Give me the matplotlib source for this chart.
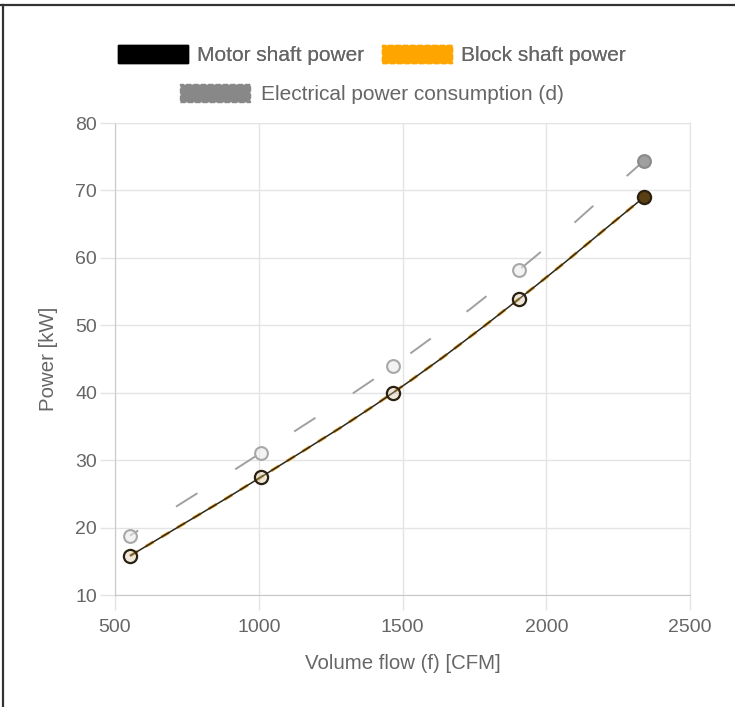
import matplotlib
matplotlib.use("Agg")
import matplotlib.pyplot as plt
import numpy as np
from matplotlib.path import Path
from matplotlib.patches import PathPatch, Patch
from matplotlib.lines import Line2D

plt.rcParams['font.family'] = ['Liberation Sans', 'DejaVu Sans']

# ---- data ----
flow_cfm = [552, 1008, 1467, 1905, 2340]
motor_shaft_kw = [15.8, 27.5, 40.0, 53.9, 69.0]
block_shaft_kw = [15.8, 27.5, 40.0, 53.9, 69.0]
electrical_kw = [18.8, 31.1, 44.0, 58.2, 74.4]
x_ticks = [500, 1000, 1500, 2000, 2500]
y_ticks = [10, 20, 30, 40, 50, 60, 70, 80]
series_labels = ["Motor shaft power", "Block shaft power", "Electrical power consumption (d)"]

W, H = 735, 707
fig = plt.figure(figsize=(W / 100, H / 100), dpi=100)
ax = fig.add_axes([115 / W, 1 - 595 / H, (690 - 115) / W, (595 - 123) / H])
ax.set_xlim(500, 2500)
ax.set_ylim(10, 80)

grid_c = "#e4e4e4"
axis_c = "#c8c8c8"
text_c = "#666666"
fs = 14
fs_lab = 14.7
fs_leg = 15

ax.set_xticks(x_ticks)
ax.set_yticks(y_ticks)
ax.grid(True, color=grid_c, lw=1)
ax.set_axisbelow(True)
ax.tick_params(length=11, width=1, color=grid_c, labelcolor=text_c, labelsize=fs, pad=2)
ax.tick_params(axis='x', pad=6)
for s in ['top', 'right']:
    ax.spines[s].set_color(grid_c)
for s in ['left', 'bottom']:
    ax.spines[s].set_color(axis_c)
ax.set_xlabel("Volume flow (f) [CFM]", color=text_c, fontsize=fs_lab, labelpad=13)
ax.set_ylabel("Power [kW]", color=text_c, fontsize=fs_lab, labelpad=12)


def smooth_path(xs, ys, t=0.4):
    """Chart.js-style bezier through the given points (computed in pixel space)."""
    pts = ax.transData.transform(np.column_stack([xs, ys]))
    n = len(pts)
    verts = [pts[0]]
    codes = [Path.MOVETO]
    cps = []
    for i in range(n):
        prev = pts[i - 1] if i > 0 else pts[i]
        nxt = pts[i + 1] if i < n - 1 else pts[i]
        d01 = np.hypot(*(pts[i] - prev))
        d12 = np.hypot(*(nxt - pts[i]))
        tot = d01 + d12
        s01 = d01 / tot if tot else 0
        s12 = d12 / tot if tot else 0
        cps.append((pts[i] - t * s01 * (nxt - prev), pts[i] + t * s12 * (nxt - prev)))
    for i in range(n - 1):
        verts += [cps[i][1], cps[i + 1][0], pts[i + 1]]
        codes += [Path.CURVE4] * 3
    verts = ax.transData.inverted().transform(np.array(verts))
    return Path(verts, codes)


# electrical (dashed grey)
ax.add_patch(PathPatch(smooth_path(flow_cfm, electrical_kw), fill=False, edgecolor="#a0a0a0",
                       lw=1.4, linestyle=(8, (13, 23)), zorder=3))
# block shaft (orange dashed) under motor shaft (black)
ax.add_patch(PathPatch(smooth_path(flow_cfm, block_shaft_kw), fill=False, edgecolor="#e0a030",
                       lw=2.2, linestyle=(0, (3, 3)), zorder=4))
ax.add_patch(PathPatch(smooth_path(flow_cfm, motor_shaft_kw), fill=False, edgecolor="#2e2818",
                       lw=1.1, zorder=5))

# markers
ax.scatter(flow_cfm[:-1], electrical_kw[:-1], s=85, facecolor=(0.92, 0.92, 0.92, 0.6),
           edgecolor="#a8a8a8", lw=1.5, zorder=6)
ax.scatter(flow_cfm[-1:], electrical_kw[-1:], s=85, facecolor="#a0a0a0",
           edgecolor="#8a8a8a", lw=1.5, zorder=6)
ax.scatter(flow_cfm[:-1], motor_shaft_kw[:-1], s=90, facecolor=(0.8, 0.75, 0.6, 0.35),
           edgecolor="#2a2010", lw=1.6, zorder=7)
ax.scatter(flow_cfm[-1:], motor_shaft_kw[-1:], s=90, facecolor="#5a3f12",
           edgecolor="#2a2010", lw=1.6, zorder=7)

# legend (two centred rows, Chart.js style)
px = fs_leg * 100 / 72
hl = 70 / px
hh = 21 / px
leg1 = fig.legend(handles=[Patch(facecolor="black", edgecolor="black", label=series_labels[0]),
                           Patch(facecolor="#ffa500", edgecolor="#ffa500", linestyle="--",
                                 label=series_labels[1])],
                  loc="center", bbox_to_anchor=(372 / W, 1 - 55 / H), ncol=2, frameon=False,
                  fontsize=fs_leg, labelcolor=text_c, handlelength=hl, handleheight=hh,
                  handletextpad=0.45, columnspacing=0.85)
fig.legend(handles=[Patch(facecolor="#888888", edgecolor="#888888", linestyle="--",
                          label=series_labels[2])],
           loc="center", bbox_to_anchor=(372 / W, 1 - 94 / H), ncol=1, frameon=False,
           fontsize=fs_leg, labelcolor=text_c, handlelength=hl, handleheight=hh, handletextpad=0.5)
fig.add_artist(leg1)

# screenshot border (top and left)
fig.add_artist(Line2D([0, 1], [1 - 5 / H, 1 - 5 / H], transform=fig.transFigure, color="#333333", lw=1.6))
fig.add_artist(Line2D([3 / W, 3 / W], [0, 1 - 5 / H], transform=fig.transFigure, color="#333333", lw=1.6))

fig.savefig("out.png", dpi=100)
